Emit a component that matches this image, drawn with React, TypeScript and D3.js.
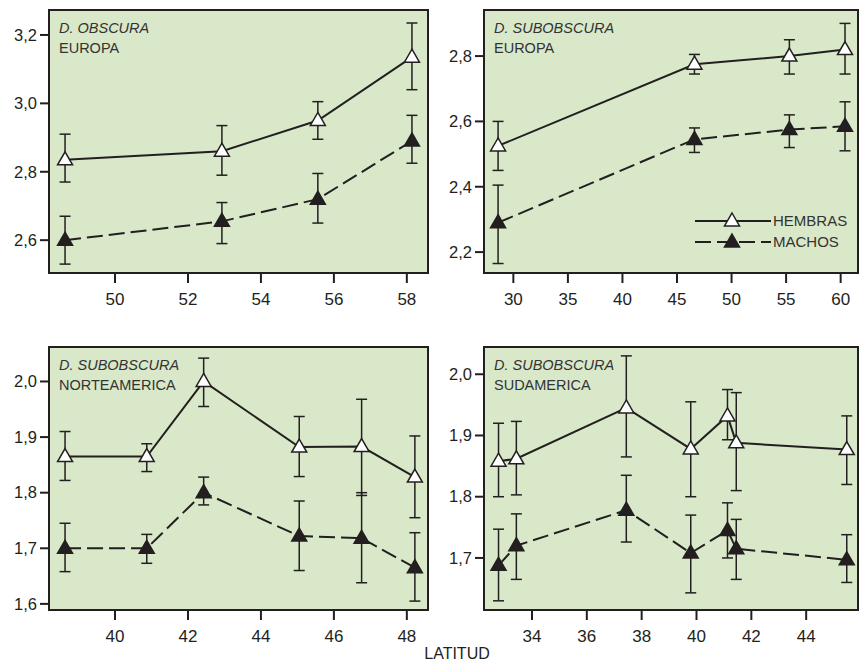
import React, { useEffect, useRef } from 'react';
import * as d3 from 'd3';

// D. obscura, Europa
const obsEuLat = [48.63, 52.93, 55.56, 58.14];
const obsEuH = [2.835, 2.86, 2.95, 3.135];
const obsEuHHi = [2.91, 2.935, 3.005, 3.235];
const obsEuHLo = [2.77, 2.79, 2.895, 3.04];
const obsEuM = [2.6, 2.655, 2.72, 2.89];
const obsEuMHi = [2.67, 2.71, 2.795, 2.965];
const obsEuMLo = [2.53, 2.59, 2.65, 2.825];

// D. subobscura, Europa
const subEuLat = [28.6, 46.6, 55.3, 60.4];
const subEuH = [2.525, 2.775, 2.8, 2.82];
const subEuHHi = [2.6, 2.805, 2.85, 2.9];
const subEuHLo = [2.45, 2.745, 2.745, 2.745];
const subEuM = [2.29, 2.545, 2.575, 2.585];
const subEuMHi = [2.405, 2.58, 2.62, 2.66];
const subEuMLo = [2.165, 2.505, 2.52, 2.51];

// D. subobscura, Norteamerica
const subNaLat = [38.63, 40.87, 42.43, 45.05, 46.76, 48.22];
const subNaH = [1.865, 1.865, 2.0, 1.882, 1.883, 1.828];
const subNaHHi = [1.91, 1.888, 2.042, 1.937, 1.968, 1.902];
const subNaHLo = [1.822, 1.838, 1.955, 1.829, 1.795, 1.755];
const subNaM = [1.7, 1.7, 1.8, 1.722, 1.718, 1.665];
const subNaMHi = [1.745, 1.725, 1.828, 1.785, 1.8, 1.728];
const subNaMLo = [1.658, 1.673, 1.778, 1.66, 1.638, 1.605];

// D. subobscura, Sudamerica
const subSaLat = [32.78, 33.43, 37.44, 39.79, 41.13, 41.45, 45.48];
const subSaH = [1.858, 1.862, 1.945, 1.878, 1.932, 1.888, 1.877];
const subSaHHi = [1.92, 1.923, 2.03, 1.955, 1.975, 1.97, 1.932];
const subSaHLo = [1.8, 1.803, 1.865, 1.8, 1.893, 1.81, 1.82];
const subSaM = [1.688, 1.72, 1.778, 1.708, 1.745, 1.715, 1.697];
const subSaMHi = [1.747, 1.772, 1.835, 1.77, 1.79, 1.763, 1.738];
const subSaMLo = [1.63, 1.665, 1.726, 1.643, 1.7, 1.665, 1.66];

const panels = [
    { species: 'D. OBSCURA', region: 'EUROPA', box: [49, 10, 428, 273], xDom: [48.19, 58.58], yDom: [2.504, 3.273],
      xTicks: [50, 52, 54, 56, 58], yTicks: [2.6, 2.8, 3.0, 3.2],
      lat: obsEuLat, h: obsEuH, hHi: obsEuHHi, hLo: obsEuHLo, m: obsEuM, mHi: obsEuMHi, mLo: obsEuMLo, legend: false },
    { species: 'D. SUBOBSCURA', region: 'EUROPA', box: [484, 10, 858, 273], xDom: [27.31, 61.59], yDom: [2.136, 2.941],
      xTicks: [30, 35, 40, 45, 50, 55, 60], yTicks: [2.2, 2.4, 2.6, 2.8],
      lat: subEuLat, h: subEuH, hHi: subEuHHi, hLo: subEuHLo, m: subEuM, mHi: subEuMHi, mLo: subEuMLo, legend: true },
    { species: 'D. SUBOBSCURA', region: 'NORTEAMERICA', box: [49, 347, 428, 610], xDom: [38.19, 48.58], yDom: [1.589, 2.062],
      xTicks: [40, 42, 44, 46, 48], yTicks: [1.6, 1.7, 1.8, 1.9, 2.0],
      lat: subNaLat, h: subNaH, hHi: subNaHHi, hLo: subNaHLo, m: subNaM, mHi: subNaMHi, mLo: subNaMLo, legend: false },
    { species: 'D. SUBOBSCURA', region: 'SUDAMERICA', box: [484, 347, 858, 610], xDom: [32.25, 45.89], yDom: [1.615, 2.0445],
      xTicks: [34, 36, 38, 40, 42, 44], yTicks: [1.7, 1.8, 1.9, 2.0],
      lat: subSaLat, h: subSaH, hHi: subSaHHi, hLo: subSaHLo, m: subSaM, mHi: subSaMHi, mLo: subSaMLo, legend: false },
];

const FONT = '"Liberation Sans", Arial, Helvetica, sans-serif';
const INK = '#231f20';
const DASH = '16,6';
const triangle = 'M0,-8L7.5,5L-7.5,5Z';

const App = () => {
    const svgRef = useRef<SVGSVGElement>(null);

    useEffect(() => {
        const svg = d3.select(svgRef.current);
        svg.selectAll('*').remove();
        const fmt = (v: number) => d3.format('.1f')(v).replace('.', ',');

        panels.forEach(p => {
            const [x0, y0, x1, y1] = p.box;
            const x = d3.scaleLinear().domain(p.xDom).range([x0, x1]);
            const y = d3.scaleLinear().domain(p.yDom).range([y1, y0]);
            const g = svg.append('g');

            g.append('rect')
                .attr('x', x0).attr('y', y0)
                .attr('width', x1 - x0).attr('height', y1 - y0)
                .attr('fill', '#d9e8c9');

            // ejes
            const xAxis = g.append('g');
            xAxis.selectAll('line').data(p.xTicks).enter().append('line')
                .attr('x1', d => x(d)).attr('x2', d => x(d))
                .attr('y1', y1).attr('y2', y1 + 10)
                .attr('stroke', INK).attr('stroke-width', 2);
            xAxis.selectAll('text').data(p.xTicks).enter().append('text')
                .attr('x', d => x(d)).attr('y', y1 + 32)
                .attr('text-anchor', 'middle')
                .style('font-family', FONT).style('font-size', '17px').attr('fill', INK)
                .text(d => d);

            const yAxis = g.append('g');
            yAxis.selectAll('line').data(p.yTicks).enter().append('line')
                .attr('x1', x0 - 9).attr('x2', x0)
                .attr('y1', d => y(d)).attr('y2', d => y(d))
                .attr('stroke', INK).attr('stroke-width', 2);
            yAxis.selectAll('text').data(p.yTicks).enter().append('text')
                .attr('x', x0 - 12).attr('y', d => y(d)).attr('dy', '0.35em')
                .attr('text-anchor', 'end')
                .style('font-family', FONT).style('font-size', '16.5px').attr('fill', INK)
                .text(d => fmt(d));

            // etiquetas
            g.append('text').attr('x', x0 + 10).attr('y', y0 + 23)
                .style('font-family', FONT).style('font-size', '14.5px').style('font-style', 'italic')
                .attr('fill', '#333').text(p.species);
            g.append('text').attr('x', x0 + 10).attr('y', y0 + 43)
                .style('font-family', FONT).style('font-size', '14.5px')
                .attr('fill', '#333').text(p.region);

            const series = [
                { v: p.h, hi: p.hHi, lo: p.hLo, dash: null, fill: '#fff' },
                { v: p.m, hi: p.mHi, lo: p.mLo, dash: DASH, fill: INK },
            ];

            series.forEach(s => {
                const idx = d3.range(s.v.length);
                const line = d3.line<number>().x(i => x(p.lat[i])).y(i => y(s.v[i]));
                g.append('path').attr('d', line(idx))
                    .attr('fill', 'none').attr('stroke', INK).attr('stroke-width', 2)
                    .attr('stroke-dasharray', s.dash);

                const eb = g.append('g').attr('stroke', INK).attr('stroke-width', 1.5);
                idx.forEach(i => {
                    const cx = x(p.lat[i]);
                    eb.append('line').attr('x1', cx).attr('x2', cx).attr('y1', y(s.hi[i])).attr('y2', y(s.lo[i]));
                    eb.append('line').attr('x1', cx - 5.5).attr('x2', cx + 5.5).attr('y1', y(s.hi[i])).attr('y2', y(s.hi[i]));
                    eb.append('line').attr('x1', cx - 5.5).attr('x2', cx + 5.5).attr('y1', y(s.lo[i])).attr('y2', y(s.lo[i]));
                });
            });

            series.forEach(s => {
                g.selectAll(null).data(d3.range(s.v.length)).enter().append('path')
                    .attr('d', triangle)
                    .attr('transform', i => `translate(${x(p.lat[i])},${y(s.v[i])})`)
                    .attr('fill', s.fill).attr('stroke', INK).attr('stroke-width', 1.5);
            });

            g.append('rect')
                .attr('x', x0).attr('y', y0)
                .attr('width', x1 - x0).attr('height', y1 - y0)
                .attr('fill', 'none').attr('stroke', INK).attr('stroke-width', 2);

            if (p.legend) {
                const items = [
                    { label: 'HEMBRAS', dash: null, fill: '#fff', ly: 221 },
                    { label: 'MACHOS', dash: DASH, fill: INK, ly: 242 },
                ];
                items.forEach(it => {
                    g.append('line').attr('x1', 695).attr('x2', 771).attr('y1', it.ly).attr('y2', it.ly)
                        .attr('stroke', INK).attr('stroke-width', 2).attr('stroke-dasharray', it.dash);
                    g.append('path').attr('d', triangle)
                        .attr('transform', `translate(732,${it.ly})`)
                        .attr('fill', it.fill).attr('stroke', INK).attr('stroke-width', 1.5);
                    g.append('text').attr('x', 773).attr('y', it.ly).attr('dy', '0.35em')
                        .style('font-family', FONT).style('font-size', '15px')
                        .attr('fill', '#333').text(it.label);
                });
            }
        });

        svg.append('text').attr('x', 457).attr('y', 659)
            .attr('text-anchor', 'middle')
            .style('font-family', FONT).style('font-size', '16px').attr('fill', INK)
            .text('LATITUD');
    }, []);

    return (
        <svg ref={svgRef} width={863} height={665}
            style={{ position: 'absolute', left: 0, top: 0, background: '#fff' }} />
    );
};

export default App;
